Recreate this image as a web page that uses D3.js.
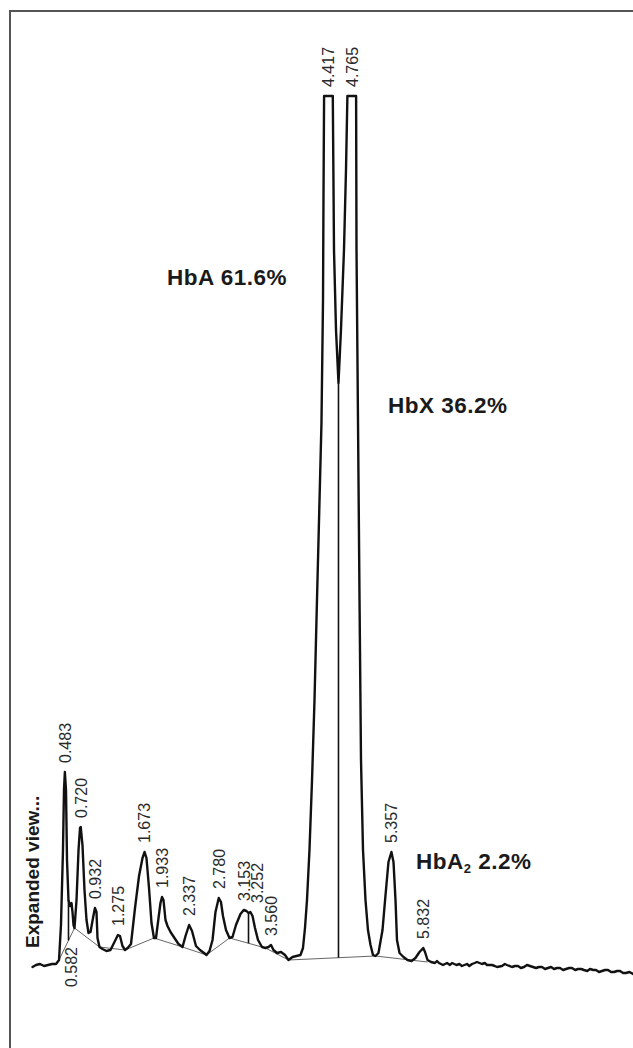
<!DOCTYPE html>
<html>
<head>
<meta charset="utf-8">
<script src="https://cdn.jsdelivr.net/npm/d3@7/dist/d3.min.js"></script>
<style>
  html, body { margin: 0; padding: 0; background: #fff; }
  svg { display: block; }
</style>
</head>
<body>
<div id="chart"></div>
<script>
// HPLC chromatogram trace: [retention time (min), detector signal]
const trace = [
  [0.000,1],[0.052,3],[0.112,4],[0.172,2],[0.231,3],[0.291,4],[0.351,4],[0.396,8],
  [0.425,43],[0.455,118],[0.470,178],[0.483,196],[0.500,178],[0.515,108],[0.537,68],
  [0.560,62],[0.582,65],[0.597,56],[0.612,43],[0.627,40],
  [0.657,68],[0.687,118],[0.709,140],[0.720,141],[0.746,123],[0.776,78],[0.806,48],[0.836,35],[0.866,36],
  [0.903,50],[0.932,60],[0.955,56],[0.970,30],[1.000,21],[1.045,19],[1.104,17],[1.164,18],
  [1.216,25],[1.275,33],[1.306,32],[1.343,22],[1.381,18],[1.420,20],[1.470,24],
  [1.530,60],[1.590,92],[1.642,110],[1.673,116],[1.701,110],[1.739,80],[1.776,45],[1.813,30],[1.843,30],
  [1.881,50],[1.910,65],[1.933,71],[1.955,68],[1.985,48],[2.015,42],[2.060,36],[2.119,30],[2.179,24],[2.239,21],
  [2.284,32],[2.337,43],[2.381,37],[2.440,22],[2.500,18],[2.560,15],[2.597,13],[2.642,17],[2.687,28],
  [2.731,56],[2.780,70],[2.813,66],[2.843,52],[2.888,38],[2.940,30],[2.985,31],[3.037,43],
  [3.104,54],[3.153,58],[3.194,57],[3.224,55],[3.252,56],[3.284,52],[3.321,40],[3.366,28],[3.425,21],[3.478,20],
  [3.522,21],[3.560,23],[3.597,18],[3.649,15],[3.709,16],[3.769,13],[3.821,8],[3.881,11],[3.940,12],[4.000,13],
  [4.037,20],[4.067,40],[4.097,68],[4.134,118],[4.172,188],[4.209,268],[4.246,368],[4.284,468],[4.313,545],
  [4.336,668],[4.343,768],[4.352,872],[4.482,872],
  [4.500,718],[4.530,638],[4.567,585],
  [4.604,638],[4.649,718],[4.679,798],[4.700,872],[4.830,872],
  [4.836,718],[4.858,548],[4.881,368],[4.903,208],[4.933,118],[4.970,68],[5.007,38],[5.045,23],[5.082,13],[5.119,12],
  [5.164,15],[5.224,38],[5.269,73],[5.313,106],[5.357,116],[5.388,106],[5.418,68],[5.440,28],[5.478,15],
  [5.537,11],[5.597,8],[5.657,7],[5.716,10],
  [5.776,16],[5.832,20],[5.858,16],[5.896,8],
  [5.948,6],[6.007,5],[6.037,7],[6.067,5],[6.127,3],[6.187,5],[6.231,3],[6.261,5],[6.328,3],[6.370,4],
  [6.410,2],[6.485,4],[6.520,2],[6.560,4],[6.600,5],[6.634,6],[6.709,4],[6.750,5],[6.784,3],[6.858,3],
  [6.900,2],[6.933,1],[7.007,2],[7.050,4],[7.082,3],[7.157,1],[7.200,2],[7.246,2],[7.290,0],[7.336,1],
  [7.380,3],[7.425,2],[7.470,1],[7.515,0],[7.560,1],[7.604,1],[7.650,-1],[7.694,0],[7.740,1],[7.784,-1],
  [7.830,0],[7.873,0],[7.920,-2],[7.963,-1],[8.010,0],[8.052,0],[8.100,-2],[8.142,-1],[8.190,-1],[8.231,-2],
  [8.280,-3],[8.321,-1],[8.370,-2],[8.410,-2],[8.455,-4],[8.500,-3],[8.545,-2],[8.590,-2],[8.635,-4],[8.679,-4],
  [8.725,-3],[8.769,-3],[8.815,-5],[8.858,-5],[8.910,-4],[8.963,-6]
];

// Integration baseline vertices: [time, signal]
const baseline = [
  [0.381,6],[0.627,40],[1.000,21],[1.381,18],[1.813,30],[2.239,21],[2.597,13],
  [2.940,30],[3.478,20],[3.821,8],[5.119,12],[5.896,6]
];

// Perpendicular drop lines separating unresolved peaks (time, min)
const dropTimes = [0.537, 3.224, 4.567];

// Retention times of integrated peaks (min)
const peakTimes = [0.483, 0.582, 0.720, 0.932, 1.275, 1.673, 1.933, 2.337, 2.780, 3.153, 3.252, 3.560, 4.417, 4.765, 5.357, 5.832];
// Peaks whose retention time is printed beneath the trace
const peaksLabelledBelow = [0.582];

// Haemoglobin fractions
const fractionNames = ["HbA", "HbX", "HbA"];
const fractionSubscripts = ["", "", "2"];
const fractionPercents = [61.6, 36.2, 2.2];

const W = 633, H = 1048;
const svg = d3.select("#chart").append("svg")
  .attr("width", W).attr("height", H)
  .attr("viewBox", `0 0 ${W} ${H}`);

svg.append("rect").attr("width", W).attr("height", H).attr("fill", "#fff");

// Frame
svg.append("rect")
  .attr("x", 10).attr("y", 11)
  .attr("width", 700).attr("height", 1100)
  .attr("fill", "none").attr("stroke", "#555").attr("stroke-width", 2);

const x = d3.scaleLinear().domain([0, 9]).range([32.5, 635.5]);
const y = d3.scaleLinear().domain([0, 900]).range([968, 68]);

const line = d3.line().x(d => x(d[0])).y(d => y(d[1]));

// Linear interpolation along a polyline of [t, s] points
const bis = d3.bisector(d => d[0]).left;
function valueAt(series, t) {
  const i = bis(series, t);
  if (i <= 0) return series[0][1];
  if (i >= series.length) return series[series.length - 1][1];
  const a = series[i - 1], b = series[i];
  if (b[0] === t) return b[1];
  return a[1] + (b[1] - a[1]) * (t - a[0]) / (b[0] - a[0]);
}

// Baseline
svg.append("path")
  .attr("d", line(baseline))
  .attr("fill", "none")
  .attr("stroke", "#666")
  .attr("stroke-width", 1);

// Drop lines
svg.append("g").selectAll("line")
  .data(dropTimes)
  .join("line")
  .attr("x1", d => x(d)).attr("x2", d => x(d))
  .attr("y1", d => y(valueAt(trace, d)))
  .attr("y2", d => y(valueAt(baseline, d)))
  .attr("stroke", "#111")
  .attr("stroke-width", 1.6);

// Chromatogram trace
svg.append("path")
  .attr("d", line(trace))
  .attr("fill", "none")
  .attr("stroke", "#111")
  .attr("stroke-width", 2.4)
  .attr("stroke-linejoin", "round")
  .attr("stroke-linecap", "round");

// Retention-time labels
const fmt = d3.format(".3f");
const above = peakTimes.filter(t => !peaksLabelledBelow.includes(t));
let prevX = -Infinity;
const aboveLayout = above.map(t => {
  let lx = x(t);
  if (lx - prevX < 13) lx = prevX + 13;
  prevX = lx;
  return { t, lx, ly: y(valueAt(trace, t)) - 9 };
});

const rtFont = "'Liberation Sans', Arial, sans-serif";
svg.append("g").selectAll("text")
  .data(aboveLayout)
  .join("text")
  .attr("transform", d => `translate(${d.lx},${d.ly}) rotate(-90)`)
  .attr("dy", "0.36em")
  .attr("text-anchor", "start")
  .attr("font-family", rtFont)
  .attr("font-size", 16)
  .attr("fill", "#2a2a2a")
  .text(d => fmt(d.t));

svg.append("g").selectAll("text")
  .data(peaksLabelledBelow)
  .join("text")
  .attr("transform", d => `translate(${x(d)},${y(0) - 21}) rotate(-90)`)
  .attr("dy", "0.36em")
  .attr("text-anchor", "end")
  .attr("font-family", rtFont)
  .attr("font-size", 16)
  .attr("fill", "#2a2a2a")
  .text(d => fmt(d));

// Side caption
svg.append("text")
  .attr("transform", "translate(39,948) rotate(-90)")
  .attr("text-anchor", "start")
  .attr("font-family", rtFont)
  .attr("font-weight", "bold")
  .attr("font-size", 19)
  .attr("fill", "#1a1a1a")
  .text("Expanded view...");

// Fraction annotations
const fracPos = [[167, 285], [388, 413], [416, 869]];
const fracFont = "'Liberation Sans', Arial, sans-serif";
fractionNames.forEach((name, i) => {
  const t = svg.append("text")
    .attr("x", fracPos[i][0]).attr("y", fracPos[i][1])
    .attr("font-family", fracFont)
    .attr("font-weight", "bold")
    .attr("font-size", 22.5)
    .attr("letter-spacing", 0.5)
    .attr("fill", "#1a1a1a");
  t.append("tspan").text(name);
  if (fractionSubscripts[i]) {
    t.append("tspan")
      .attr("font-size", 13)
      .attr("dy", 4)
      .text(fractionSubscripts[i]);
    t.append("tspan")
      .attr("dy", -4)
      .text(" " + d3.format(".1f")(fractionPercents[i]) + "%");
  } else {
    t.append("tspan").text(" " + d3.format(".1f")(fractionPercents[i]) + "%");
  }
});
</script>
</body>
</html>
